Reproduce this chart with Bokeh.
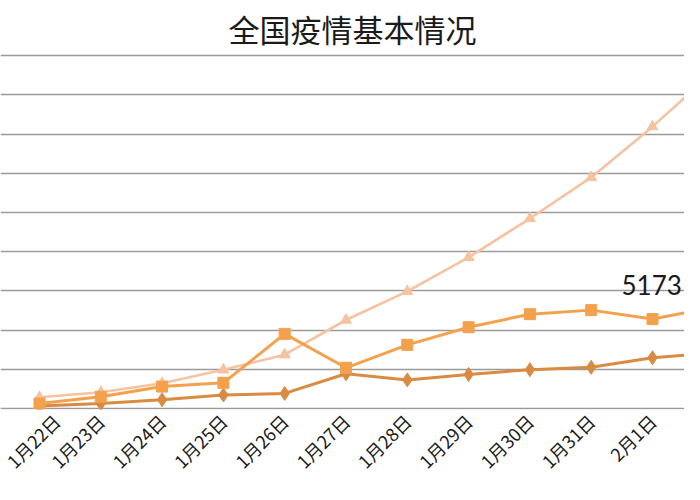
import math
from bokeh.plotting import figure
from bokeh.models import Range1d, FixedTicker, Title, ColumnDataSource
from bokeh.core.properties import value
from bokeh.embed import file_html
from bokeh.resources import INLINE

# ---- data ----
dates = ["1月22日", "1月23日", "1月24日", "1月25日", "1月26日", "1月27日",
         "1月28日", "1月29日", "1月30日", "1月31日", "2月1日", "2月2日"]
new_confirmed = [131, 259, 444, 688, 769, 1771, 1459, 1737, 1982, 2102, 2590, 2829]
new_suspected = [257, 600, 1118, 1309, 3806, 2077, 3248, 4148, 4812, 5019, 4562, 5173]
cum_confirmed = [571, 830, 1287, 1975, 2744, 4515, 5974, 7711, 9692, 11791, 14380, 17205]
y_ticks = [0, 2000, 4000, 6000, 8000, 10000, 12000, 14000, 16000, 18000]
label_index = 11  # the data label shown (2月2日 new suspected)

idx = list(range(len(dates)))

FW, FH = 684, 356
TOP, BOTTOM = 53, 75
px_per_idx = 61.3
px_per_2000 = 39.2
x0 = -39 / px_per_idx
y0 = -1 * 2000 / px_per_2000
p = figure(frame_width=FW, frame_height=FH, output_backend="svg", toolbar_location=None,
           x_range=Range1d(x0, x0 + FW / px_per_idx),
           y_range=Range1d(y0, y0 + FH * 2000 / px_per_2000),
           min_border_left=0, min_border_right=0,
           min_border_top=TOP, min_border_bottom=BOTTOM,
           background_fill_color="white", border_fill_color="white",
           outline_line_color=None)

p.title = Title(text="全国疫情基本情况", align="left", offset=228,
                text_font="Noto Sans CJK SC", text_font_size="31px",
                text_font_style="normal", text_color="#1a1a1a", standoff=5)

p.yaxis.visible = False
p.ygrid.ticker = FixedTicker(ticks=y_ticks)
p.ygrid.grid_line_color = "#9a9a9a"
p.ygrid.grid_line_width = 1.6
p.xgrid.visible = False

p.xaxis.ticker = FixedTicker(ticks=idx)
p.xaxis.major_label_overrides = {i: d for i, d in zip(idx, dates)}
p.xaxis.major_label_orientation = math.pi / 4
p.xaxis.major_label_text_font = "Noto Sans CJK SC"
p.xaxis.major_label_text_font_size = "18px"
p.xaxis.major_label_text_color = "#1a1a1a"
p.xaxis.axis_line_color = None
p.xaxis.major_tick_line_color = None
p.xaxis.minor_tick_line_color = None
p.xaxis.major_tick_out = 0
p.xaxis.major_label_standoff = 8

src = ColumnDataSource(dict(x=idx, nc=new_confirmed, ns=new_suspected, cc=cum_confirmed))

c_tri = "#F6C3A0"
c_sq = "#F4A14E"
c_dia = "#D98B43"

p.line("x", "cc", source=src, line_color=c_tri, line_width=2.6)
p.scatter("x", "cc", source=src, marker="triangle", size=11,
          fill_color=c_tri, line_color=c_tri)

p.line("x", "nc", source=src, line_color=c_dia, line_width=3)
p.scatter("x", "nc", source=src, marker="diamond", size=14,
          fill_color=c_dia, line_color=c_dia)

p.line("x", "ns", source=src, line_color=c_sq, line_width=3)
p.scatter("x", "ns", source=src, marker="square", size=11,
          fill_color=c_sq, line_color=c_sq)

# data label for the last (partly off-frame) point, pulled inside the frame
lab = ColumnDataSource(dict(x=[idx[label_index]], y=[new_suspected[label_index]],
                            t=[str(new_suspected[label_index])]))
p.text("x", "y", text="t", source=lab, text_font=value("Lato"),
       text_font_size="26px", text_color="#1a1a1a", text_align="right",
       text_baseline="bottom", x_offset=-32, y_offset=-12)

open("out.html", "w").write(file_html(p, INLINE))
